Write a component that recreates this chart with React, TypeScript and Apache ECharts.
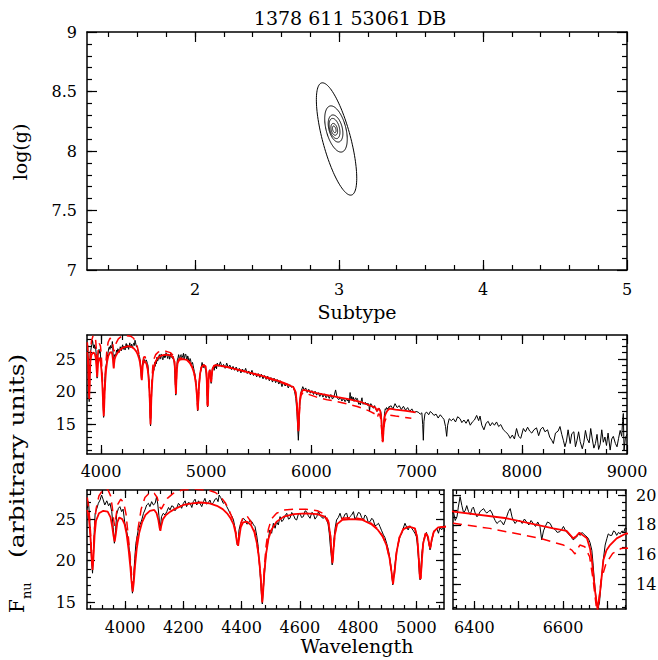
import React, { useEffect, useRef } from "react";
import * as echarts from "echarts";

const FONT = "DejaVu Serif";
const TITLE = "1378 611 53061 DB";

// chi2 contours: [centre subtype, centre logg, a_x, a_y, b_x, b_y] (semi-axis vectors, data units)
const contourEllipses: number[][] = [
  [2.983, 8.101, -0.104, 0.471, 0.094, 0.03],
  [2.979, 8.185, -0.042, 0.193, 0.066, 0.021],
  [2.976, 8.189, -0.024, 0.113, 0.045, 0.014],
  [2.969, 8.189, -0.018, 0.084, 0.033, 0.011],
  [2.967, 8.182, -0.01, 0.049, 0.021, 0.007],
  [2.967, 8.182, -0.006, 0.028, 0.011, 0.003],
];

// observed spectrum [wavelength, flux]
const specBlue: number[][] = [
  [3870, 26.3], [3874, 27.1], [3878, 25.2], [3882, 22.0], [3885, 19.8], [3888, 18.5], [3891, 20.6], [3894, 23.6],
  [3897, 25.7], [3903, 26.3], [3908, 26.9], [3914, 27.3], [3919, 27.9], [3924, 27.4], [3930, 26.7], [3937, 27.2],
  [3943, 26.6], [3948, 26.9], [3954, 25.9], [3959, 24.0], [3963, 22.1], [3967, 23.6], [3971, 25.6], [3977, 26.3],
  [3982, 26.5], [3988, 25.9], [3993, 26.2], [3999, 24.5], [4005, 23.6], [4011, 22.5], [4016, 20.6], [4019, 19.3],
  [4022, 17.5], [4025, 16.1], [4028, 17.2], [4030, 18.5], [4033, 20.3], [4037, 22.1], [4045, 23.7], [4051, 24.3],
  [4057, 24.9], [4063, 25.7], [4068, 26.1], [4074, 26.7], [4080, 26.9], [4085, 26.5], [4091, 27.1], [4097, 26.7],
  [4103, 26.9], [4108, 27.7], [4112, 26.8], [4116, 25.4], [4120, 23.7], [4125, 25.3], [4131, 25.7], [4137, 25.5],
  [4143, 25.9], [4149, 26.4], [4154, 26.1], [4160, 26.6], [4166, 26.5], [4171, 26.0], [4177, 26.3], [4183, 26.9],
  [4188, 26.7], [4194, 26.3], [4200, 26.9], [4206, 27.2], [4211, 26.5], [4217, 27.0], [4223, 26.9], [4229, 26.4],
  [4234, 27.1], [4240, 27.4], [4246, 26.7], [4252, 27.2], [4257, 26.9], [4263, 26.5], [4269, 27.1], [4274, 27.5],
  [4280, 26.8], [4286, 27.0], [4291, 27.3], [4297, 26.7], [4303, 27.0], [4309, 27.4], [4314, 27.5], [4319, 27.1],
  [4323, 27.9], [4328, 27.6], [4332, 27.3], [4337, 26.9], [4343, 27.0], [4349, 26.5], [4355, 26.1], [4360, 25.7],
  [4366, 25.4], [4372, 24.9], [4376, 24.2], [4380, 23.3], [4385, 21.9], [4388, 22.3], [4391, 23.7], [4396, 24.4],
  [4400, 24.7], [4406, 25.1], [4412, 24.9], [4418, 24.4], [4423, 24.5], [4429, 24.9], [4435, 24.7], [4441, 24.3],
  [4446, 24.1], [4452, 23.0], [4457, 21.7], [4461, 19.6], [4465, 17.7], [4468, 16.0], [4471, 14.8], [4474, 16.2],
  [4477, 17.7], [4481, 19.6], [4484, 20.9], [4492, 22.7], [4497, 23.7], [4503, 23.3], [4509, 24.5], [4515, 23.9],
  [4520, 24.7], [4526, 24.3], [4532, 25.3], [4538, 24.7], [4543, 24.9], [4549, 25.4], [4555, 25.7], [4561, 25.0],
  [4566, 25.1], [4572, 25.8], [4578, 25.5], [4584, 25.0], [4589, 24.9], [4595, 25.6], [4600, 25.7], [4606, 25.2],
  [4612, 25.3], [4618, 26.0], [4623, 25.9], [4629, 25.4], [4635, 25.1], [4641, 25.8], [4646, 25.7], [4652, 25.0],
  [4658, 25.3], [4664, 25.9], [4669, 25.5], [4675, 25.2], [4681, 25.1], [4687, 25.4], [4692, 24.9], [4697, 24.4],
  [4701, 23.3], [4704, 22.0], [4707, 20.9], [4711, 19.5], [4714, 20.6], [4717, 22.5], [4721, 23.9], [4726, 24.9],
  [4732, 25.2], [4738, 25.7], [4744, 25.0], [4749, 25.1], [4755, 25.6], [4761, 25.7], [4766, 24.9], [4772, 25.3],
  [4778, 25.5], [4784, 25.9], [4789, 25.0], [4795, 25.3], [4801, 25.8], [4807, 25.7], [4812, 25.2], [4818, 24.9],
  [4824, 25.5], [4829, 25.3], [4835, 24.6], [4841, 24.7], [4847, 25.1], [4852, 24.9], [4858, 24.2], [4864, 24.3],
  [4870, 24.5], [4875, 24.1], [4881, 23.6], [4887, 23.1], [4892, 22.8], [4898, 22.1], [4904, 21.3], [4910, 20.1],
  [4915, 18.6], [4919, 17.1], [4923, 18.3], [4927, 19.7], [4932, 21.0], [4938, 22.1], [4944, 22.9], [4950, 23.3],
  [4955, 23.9], [4961, 24.5], [4967, 24.0], [4972, 23.7], [4978, 24.2], [4984, 23.9], [4990, 23.6], [4995, 23.3],
  [5000, 22.9], [5003, 22.1], [5007, 20.3], [5010, 18.6], [5013, 17.7], [5016, 19.2], [5019, 20.9], [5024, 22.3],
  [5030, 23.1], [5035, 23.4], [5039, 22.7], [5043, 22.1], [5047, 21.3], [5051, 22.0], [5056, 22.9], [5060, 23.5],
  [5064, 23.7], [5070, 23.9], [5076, 23.3], [5081, 24.0], [5087, 23.7], [5093, 24.2], [5098, 23.5],
];

const specMid: number[][] = [
  [5105, 24.4], [5120, 23.9], [5135, 24.6], [5150, 23.8], [5165, 24.2], [5180, 23.6], [5195, 24.4], [5210, 23.7],
  [5225, 24.1], [5240, 23.4], [5255, 23.9], [5270, 23.3], [5285, 23.8], [5300, 23.1], [5315, 23.6], [5330, 22.9],
  [5345, 23.5], [5360, 23.0], [5375, 23.6], [5390, 22.8], [5405, 23.2], [5420, 22.6], [5435, 23.3], [5450, 22.5],
  [5465, 22.9], [5480, 22.3], [5495, 22.8], [5510, 22.2], [5525, 22.7], [5540, 22.0], [5555, 22.5], [5570, 21.9],
  [5585, 22.4], [5600, 21.7], [5615, 22.2], [5630, 21.5], [5645, 22.1], [5660, 21.4], [5675, 21.9], [5690, 21.2],
  [5705, 21.7], [5720, 20.8], [5735, 21.5], [5750, 20.9], [5765, 21.3], [5780, 20.6], [5795, 21.1], [5810, 20.7],
  [5825, 20.9], [5840, 20.1], [5852, 19.0], [5862, 17.0], [5870, 14.5], [5876, 12.6], [5881, 14.2], [5888, 17.6],
  [5896, 19.4], [5905, 20.2], [5918, 20.8], [5932, 20.3], [5946, 20.6], [5960, 19.9], [5975, 20.4], [5990, 19.8],
  [6005, 20.2], [6020, 19.6], [6035, 20.1], [6050, 19.5], [6065, 19.9], [6080, 19.3], [6095, 19.8], [6110, 19.2],
  [6125, 19.7], [6140, 19.1], [6155, 19.5], [6170, 19.0], [6185, 19.6], [6200, 18.9], [6215, 19.3], [6230, 20.3],
  [6245, 19.1], [6260, 18.8], [6275, 19.2], [6290, 18.6], [6305, 19.0], [6320, 18.5], [6335, 18.9], [6345, 18.6],
];

const specRed: number[][] = [
  [6353, 18.9], [6357, 18.3], [6361, 18.55], [6364, 19.2], [6368, 19.9], [6372, 19.3], [6376, 18.8], [6380, 19.0],
  [6383, 19.3], [6387, 18.9], [6391, 18.7], [6395, 19.1], [6398, 19.2], [6402, 18.8], [6406, 18.55], [6410, 18.7],
  [6413, 18.9], [6417, 19.0], [6421, 19.1], [6425, 18.9], [6428, 18.8], [6432, 18.9], [6436, 19.0], [6440, 18.8],
  [6443, 18.55], [6447, 18.3], [6451, 18.1], [6455, 18.2], [6458, 18.3], [6462, 18.2], [6466, 18.0], [6470, 18.3],
  [6473, 18.55], [6477, 18.9], [6481, 19.1], [6485, 18.55], [6488, 18.3], [6492, 18.1], [6497, 18.3], [6503, 18.3],
  [6508, 18.1], [6513, 18.4], [6518, 18.2], [6523, 18.0], [6528, 18.3], [6533, 18.1], [6538, 17.9], [6543, 18.2],
  [6548, 17.9], [6552, 17.0], [6556, 17.6], [6560, 17.9], [6565, 18.2], [6571, 18.1], [6576, 17.8], [6582, 17.7],
  [6587, 17.5], [6593, 17.55], [6597, 17.7], [6601, 17.9], [6606, 17.6], [6612, 17.4], [6618, 17.2], [6623, 17.0],
  [6627, 17.1], [6631, 17.2], [6635, 17.4], [6639, 17.3], [6643, 17.5], [6646, 17.4], [6650, 17.3], [6654, 17.2],
  [6657, 17.1], [6661, 16.8], [6665, 16.3], [6668, 15.3], [6670, 14.5], [6673, 13.5], [6676, 12.7], [6679, 12.5],
  [6682, 12.7], [6685, 13.8], [6687, 14.5], [6691, 15.7], [6695, 16.65], [6699, 17.1], [6702, 17.4], [6706, 17.3],
  [6710, 17.3], [6714, 17.6], [6717, 17.55], [6721, 17.3], [6725, 17.5], [6729, 17.4], [6733, 17.6], [6737, 17.5],
  [6740, 17.8], [6745, 17.7],
];

const specFar: number[][] = [
  [6755, 17.9], [6775, 17.4], [6795, 18.2], [6815, 17.6], [6835, 17.9], [6855, 17.3], [6875, 17.8], [6895, 17.2],
  [6915, 17.6], [6935, 17.0], [6955, 17.4], [6975, 16.8], [6995, 17.0], [7015, 16.9], [7035, 16.6], [7050, 16.8],
  [7058, 15.0], [7064, 12.6], [7070, 15.5], [7080, 16.7], [7096, 16.9], [7115, 16.5], [7130, 17.0], [7145, 16.8],
  [7165, 16.4], [7185, 16.6], [7205, 16.0], [7225, 16.5], [7245, 16.1], [7260, 15.8], [7275, 14.7], [7286, 13.2],
  [7295, 14.9], [7310, 15.9], [7330, 15.6], [7350, 15.9], [7370, 15.4], [7390, 16.2], [7413, 15.9], [7430, 15.3],
  [7450, 15.7], [7470, 15.2], [7490, 15.8], [7510, 14.9], [7530, 15.4], [7550, 15.7], [7571, 16.4], [7590, 15.6],
  [7603, 16.3], [7620, 14.9], [7640, 14.2], [7660, 15.2], [7680, 15.5], [7700, 14.8], [7720, 15.3], [7740, 14.9],
  [7760, 15.4], [7780, 14.7], [7800, 15.0], [7825, 14.2], [7845, 13.9], [7870, 13.5], [7890, 12.9], [7910, 13.4],
  [7930, 12.8], [7950, 14.4], [7970, 13.2], [7990, 12.9], [8015, 14.4], [8035, 13.9], [8055, 14.6], [8075, 14.0],
  [8095, 13.7], [8115, 14.2], [8140, 14.5], [8160, 13.3], [8180, 14.3], [8200, 14.6], [8220, 13.9], [8245, 14.2],
  [8265, 13.1], [8285, 12.6], [8300, 12.1], [8320, 13.7], [8345, 14.0], [8363, 14.7], [8380, 13.5], [8395, 12.6],
  [8410, 11.6], [8425, 12.5], [8440, 14.2], [8460, 12.1], [8475, 13.6], [8495, 13.9], [8510, 11.6], [8525, 12.6],
  [8540, 13.9], [8555, 12.4], [8575, 11.3], [8590, 12.3], [8605, 14.1], [8620, 12.9], [8640, 12.2], [8655, 14.4],
  [8670, 12.8], [8685, 11.4], [8700, 12.1], [8715, 13.5], [8730, 11.2], [8745, 12.0], [8760, 14.2], [8775, 12.3],
  [8790, 13.1], [8805, 11.8], [8820, 13.7], [8840, 11.1], [8855, 12.8], [8870, 13.2], [8890, 12.1], [8905, 11.6],
  [8920, 12.9], [8935, 14.1], [8950, 13.2], [8958, 15.5], [8965, 16.7], [8972, 11.1], [8985, 13.0], [9000, 13.5],
];

// best-fit model (solid red)
const modelSolid: number[][] = [
  [3870, 26.1], [3876, 25.0], [3881, 22.8], [3885, 20.3], [3888, 18.9], [3891, 20.3], [3895, 23.0], [3900, 24.8],
  [3910, 25.7], [3925, 26.0], [3940, 25.9], [3950, 25.2], [3956, 24.0], [3960, 23.0], [3964, 22.3], [3968, 23.2],
  [3973, 24.6], [3980, 25.2], [3990, 25.0], [3998, 24.4], [4005, 23.2], [4012, 21.3], [4018, 19.2], [4022, 17.5],
  [4026, 16.3], [4030, 17.5], [4034, 19.4], [4040, 21.5], [4048, 23.3], [4058, 24.6], [4070, 25.5], [4085, 26.0],
  [4100, 26.1], [4108, 25.7], [4114, 24.9], [4118, 24.0], [4121, 23.6], [4124, 24.2], [4130, 25.0], [4140, 25.5],
  [4155, 25.9], [4175, 26.3], [4200, 26.7], [4230, 26.9], [4260, 27.0], [4290, 26.9], [4315, 26.6], [4335, 26.2],
  [4350, 25.7], [4362, 25.1], [4372, 24.4], [4379, 23.4], [4384, 22.2], [4388, 21.8], [4392, 22.8], [4397, 24.0],
  [4405, 24.6], [4418, 24.7], [4432, 24.3], [4444, 23.4], [4453, 22.0], [4460, 20.2], [4465, 18.2], [4469, 16.0],
  [4471, 15.0], [4474, 16.3], [4478, 18.6], [4484, 20.8], [4492, 22.6], [4502, 23.7], [4520, 24.7], [4545, 25.3],
  [4580, 25.6], [4620, 25.7], [4660, 25.6], [4685, 25.3], [4698, 24.6], [4705, 23.0], [4709, 21.0], [4712, 19.7],
  [4715, 21.0], [4720, 23.1], [4728, 24.4], [4745, 24.9], [4780, 25.0], [4815, 24.9], [4845, 24.4], [4868, 23.7],
  [4885, 22.9], [4898, 21.8], [4908, 20.3], [4915, 18.6], [4920, 17.2], [4925, 18.6], [4932, 21.0], [4942, 22.8],
  [4955, 23.8], [4975, 24.1], [4995, 23.9], [5003, 22.8], [5008, 20.5], [5012, 18.0], [5015, 17.8], [5018, 19.5],
  [5023, 22.0], [5032, 23.3], [5040, 22.9], [5045, 21.8], [5048, 21.5], [5052, 22.4], [5060, 23.5], [5075, 24.0],
  [5100, 24.1], [5200, 23.8], [5300, 23.4], [5400, 23.0], [5500, 22.6], [5600, 22.1], [5700, 21.6], [5780, 21.1],
  [5830, 20.7], [5850, 20.0], [5862, 18.3], [5870, 16.0], [5876, 14.0], [5882, 16.0], [5890, 18.5], [5900, 19.8],
  [5920, 20.3], [5960, 20.2], [6050, 19.8], [6150, 19.5], [6250, 19.2], [6353, 18.9], [6473, 18.45], [6578, 17.77],
  [6608, 17.6], [6623, 17.1], [6630, 17.25], [6637, 17.48], [6645, 17.3], [6654, 17.1], [6661, 16.4], [6665, 15.64],
  [6672, 13.62], [6678, 12.3], [6684, 13.62], [6691, 15.64], [6698, 16.3], [6706, 16.65], [6721, 17.1], [6742, 17.43],
  [6800, 17.3], [6900, 17.1], [6990, 16.85],
];

// alternative model (dashed red)
const modelDashed: number[][] = [
  [3870, 27.6], [3876, 26.0], [3881, 23.5], [3885, 20.8], [3888, 19.4], [3891, 21.0], [3895, 24.0], [3900, 26.2],
  [3910, 27.8], [3925, 28.6], [3940, 28.6], [3950, 27.8], [3956, 26.4], [3960, 25.0], [3964, 24.2], [3968, 25.2],
  [3975, 26.8], [3985, 27.4], [3995, 27.0], [4003, 25.6], [4010, 23.2], [4017, 20.6], [4022, 18.3], [4026, 17.0],
  [4030, 18.3], [4036, 20.8], [4044, 23.8], [4055, 26.2], [4068, 27.6], [4085, 28.2], [4100, 28.1], [4110, 27.6],
  [4118, 26.5], [4124, 26.2], [4132, 26.7], [4145, 27.5], [4165, 28.1], [4195, 28.5], [4240, 28.6], [4285, 28.5],
  [4310, 28.2], [4330, 27.6], [4345, 26.9], [4358, 26.0], [4370, 24.9], [4379, 23.6], [4385, 22.6], [4388, 22.4],
  [4392, 23.3], [4398, 24.6], [4406, 25.3], [4418, 25.4], [4432, 24.7], [4444, 23.6], [4453, 22.0], [4460, 20.2],
  [4465, 18.3], [4469, 16.3], [4471, 15.5], [4474, 16.8], [4478, 19.2], [4484, 21.8], [4492, 23.8], [4502, 25.0],
  [4520, 25.7], [4545, 26.1], [4580, 26.2], [4620, 26.2], [4660, 26.0], [4685, 25.6], [4698, 24.8], [4705, 23.0],
  [4709, 21.0], [4712, 19.9], [4715, 21.0], [4720, 23.2], [4728, 24.6], [4745, 25.1], [4780, 25.2], [4815, 25.0],
  [4845, 24.5], [4868, 23.8], [4885, 22.9], [4898, 21.8], [4908, 20.3], [4915, 18.6], [4920, 17.3], [4925, 18.6],
  [4932, 21.0], [4942, 22.8], [4955, 23.8], [4975, 24.1], [4995, 23.9], [5003, 22.8], [5008, 20.5], [5012, 18.1],
  [5015, 17.9], [5018, 19.5], [5023, 22.0], [5032, 23.3], [5040, 22.9], [5045, 21.9], [5048, 21.6], [5052, 22.4],
  [5060, 23.5], [5075, 24.0], [5100, 24.1], [5200, 23.8], [5300, 23.4], [5400, 23.0], [5500, 22.5], [5600, 22.0],
  [5700, 21.5], [5780, 21.0], [5830, 20.6], [5850, 19.9], [5862, 18.2], [5870, 15.9], [5876, 13.9], [5882, 15.8],
  [5890, 18.2], [5900, 19.4], [5920, 19.9], [5960, 19.7], [6050, 19.2], [6150, 18.8], [6250, 18.5], [6353, 18.11],
  [6435, 17.77], [6548, 17.1], [6601, 16.65], [6620, 16.31], [6627, 16.05], [6633, 16.4], [6638, 16.65], [6649, 16.54],
  [6660, 15.86], [6668, 14.29], [6675, 12.5], [6680, 12.6], [6686, 14.29], [6697, 15.41], [6712, 16.09], [6731, 16.42],
  [6742, 16.45], [6800, 16.3], [6950, 15.95],
];

const spectrum = [...specBlue, ...specMid, ...specRed, ...specFar];

const range = (a: number, b: number, s: number) => {
  const out: number[] = [];
  for (let v = a; v <= b + s * 1e-6; v += s) out.push(Math.round(v * 1000) / 1000);
  return out;
};

// tick / label values per panel
const topXLabels = [2, 3, 4, 5];
const topYLabels = [7, 7.5, 8, 8.5, 9];
const midXLabels = [4000, 5000, 6000, 7000, 8000, 9000];
const midYLabels = [15, 20, 25];
const blXLabels = [4000, 4200, 4400, 4600, 4800, 5000];
const blYLabels = [15, 20, 25];
const brXMajors = [6400, 6500, 6600, 6700];
const brXLabels = [6400, 6600];
const brYLabels = [14, 16, 18, 20];

const panels = [
  {
    grid: { left: 87, top: 32, width: 540, height: 238 },
    x: { min: 1.25, max: 5, majors: topXLabels, minors: range(1.4, 4.8, 0.2), labels: topXLabels, margin: 11, maj: 10, min_: 5 },
    y: { min: 7, max: 9, majors: topYLabels, minors: range(7.1, 8.9, 0.1), labels: topYLabels, margin: 10, maj: 10, min_: 5, side: "left" },
  },
  {
    grid: { left: 87, top: 335, width: 540, height: 119 },
    x: { min: 3867, max: 9000, majors: midXLabels, minors: range(4000, 8800, 200), labels: midXLabels, margin: 9, maj: 9, min_: 5 },
    y: { min: 10.5, max: 28.7, majors: midYLabels, minors: range(11, 28, 1), labels: midYLabels, margin: 11, maj: 9, min_: 5, side: "left" },
  },
  {
    grid: { left: 87, top: 490, width: 357, height: 119 },
    x: { min: 3869, max: 5095, majors: blXLabels, minors: range(3880, 5080, 40), labels: blXLabels, margin: 10, maj: 8, min_: 4 },
    y: { min: 14.2, max: 28.5, majors: blYLabels, minors: range(15, 28, 1), labels: blYLabels, margin: 11, maj: 8, min_: 4, side: "left" },
  },
  {
    grid: { left: 453, top: 490, width: 173, height: 119 },
    x: { min: 6352, max: 6742, majors: brXMajors, minors: range(6360, 6740, 20), labels: brXLabels, margin: 10, maj: 8, min_: 4 },
    y: { min: 12.35, max: 20.35, majors: brYLabels, minors: range(12.5, 20, 0.5), labels: brYLabels, margin: 10, maj: 8, min_: 4, side: "right" },
  },
];

function buildAxes() {
  const xAxes: any[] = [];
  const yAxes: any[] = [];
  const line = { show: true, onZero: false, lineStyle: { color: "#000", width: 1.5 } };
  const noLine = { show: false, onZero: false };
  const tick = (vals: number[], len: number) => ({
    show: true, inside: true, length: len, customValues: vals, lineStyle: { color: "#000", width: 1.2 },
  });
  const lbl = (vals: number[], margin: number) => ({
    show: true, customValues: vals, margin, color: "#000", fontFamily: FONT, fontSize: 16,
    formatter: (v: number) => String(v),
  });
  const off = { show: false };
  panels.forEach((p, gi) => {
    const base = {
      gridIndex: gi, type: "value", splitLine: off, minorTick: off, minorSplitLine: off, axisPointer: off, silent: true,
    };
    const xb = { ...base, min: p.x.min, max: p.x.max };
    xAxes.push({ ...xb, position: "bottom", axisLine: line, axisTick: tick(p.x.majors, p.x.maj), axisLabel: lbl(p.x.labels, p.x.margin) });
    xAxes.push({ ...xb, position: "bottom", axisLine: noLine, axisTick: tick(p.x.minors, p.x.min_), axisLabel: off });
    xAxes.push({ ...xb, position: "top", axisLine: line, axisTick: tick(p.x.majors, p.x.maj), axisLabel: off });
    xAxes.push({ ...xb, position: "top", axisLine: noLine, axisTick: tick(p.x.minors, p.x.min_), axisLabel: off });
    const yb = { ...base, min: p.y.min, max: p.y.max };
    const labSide = p.y.side;
    const other = labSide === "left" ? "right" : "left";
    yAxes.push({ ...yb, position: labSide, axisLine: line, axisTick: tick(p.y.majors, p.y.maj), axisLabel: lbl(p.y.labels, p.y.margin) });
    yAxes.push({ ...yb, position: labSide, axisLine: noLine, axisTick: tick(p.y.minors, p.y.min_), axisLabel: off });
    yAxes.push({ ...yb, position: other, axisLine: line, axisTick: tick(p.y.majors, p.y.maj), axisLabel: off });
    yAxes.push({ ...yb, position: other, axisLine: noLine, axisTick: tick(p.y.minors, p.y.min_), axisLabel: off });
  });
  return { xAxes, yAxes };
}

function spectrumSeries(gi: number) {
  const idx = gi * 4;
  const common = { type: "line", xAxisIndex: idx, yAxisIndex: idx, showSymbol: false, symbol: "none", clip: true, silent: true };
  return [
    { ...common, name: "data", data: spectrum, lineStyle: { color: "#000", width: 1 }, z: 2 },
    { ...common, name: "fit", data: modelSolid, lineStyle: { color: "#ff0000", width: 1.8 }, z: 3 },
    { ...common, name: "alt", data: modelDashed, lineStyle: { color: "#ff0000", width: 1.5, type: [9, 6] }, z: 4 },
  ];
}

export default function App() {
  const ref = useRef<HTMLDivElement>(null);
  useEffect(() => {
    if (!ref.current) return;
    const chart = echarts.init(ref.current, null, { renderer: "svg" });
    const { xAxes, yAxes } = buildAxes();
    const txt = (text: string, size: number) => ({
      text, fontFamily: FONT, fontSize: size, fill: "#000",
      textAlign: "center", textVerticalAlign: "middle", align: "center", verticalAlign: "middle",
    });
    const option: any = {
      animation: false,
      backgroundColor: "#fff",
      grid: panels.map((p) => ({ ...p.grid, containLabel: false, outerBoundsMode: "none", show: false })),
      xAxis: xAxes,
      yAxis: yAxes,
      series: [
        {
          type: "custom",
          xAxisIndex: 0,
          yAxisIndex: 0,
          silent: true,
          data: contourEllipses,
          encode: { x: 0, y: 1 },
          renderItem: (_params: any, api: any) => {
            const cx = api.value(0), cy = api.value(1);
            const ax = api.value(2), ay = api.value(3), bx = api.value(4), by = api.value(5);
            const pts: number[][] = [];
            for (let i = 0; i <= 120; i++) {
              const t = (i / 120) * Math.PI * 2;
              pts.push(api.coord([cx + ax * Math.cos(t) + bx * Math.sin(t), cy + ay * Math.cos(t) + by * Math.sin(t)]));
            }
            return { type: "polyline", shape: { points: pts }, style: { stroke: "#000", lineWidth: 1, fill: null } };
          },
        },
        ...spectrumSeries(1),
        ...spectrumSeries(2),
        ...spectrumSeries(3),
      ],
      graphic: [
        { type: "text", x: 350, y: 18, style: txt(TITLE, 19) },
        { type: "text", x: 357, y: 312, style: txt("Subtype", 19) },
        { type: "text", x: 20, y: 152, rotation: Math.PI / 2, style: txt("log(g)", 19) },
        { type: "text", x: 357, y: 646, style: txt("Wavelength", 19) },
        {
          type: "group",
          x: 24,
          y: 613,
          rotation: Math.PI / 2,
          children: [
            { type: "text", x: 0, y: -7, style: { ...txt("F", 20), textAlign: "left", align: "left" } },
            { type: "text", x: 14, y: 2, style: { ...txt("nu", 13), textAlign: "left", align: "left" } },
            { type: "text", x: 55, y: -7, scaleX: 1.25, style: { ...txt("(arbitrary units)", 20), textAlign: "left", align: "left" } },
          ],
        },
      ],
    };
    chart.setOption(option);
    return () => chart.dispose();
  }, []);
  return <div ref={ref} style={{ position: "absolute", left: 0, top: 0, width: 658, height: 660, background: "#fff" }} />;
}
